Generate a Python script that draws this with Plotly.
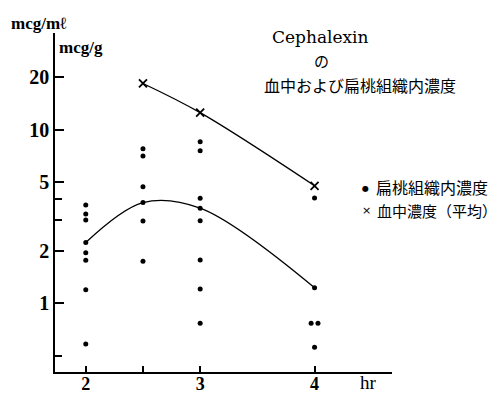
import plotly.graph_objects as go

# ---- data ----
tissue_time = [2] * 8 + [2.5] * 6 + [3] * 8 + [4, 4, 3.97, 4.03, 4]
tissue_conc = [3.68, 3.27, 3.02, 2.24, 1.96, 1.77, 1.20, 0.585,
               7.76, 7.04, 4.69, 3.80, 2.98, 1.75,
               8.51, 7.55, 4.02, 3.53, 2.99, 1.78, 1.21, 0.77,
               4.04, 1.23, 0.77, 0.77, 0.56]

tissue_mean_time = [2, 2.5, 3, 4]
tissue_mean_conc = [2.24, 3.80, 3.53, 1.23]

blood_time = [2.5, 3, 4]
blood_conc = [18.4, 12.5, 4.75]

x_tickvals = [2, 2.5, 3, 4]
x_ticktext = ["<b>2</b>", "", "<b>3</b>", "<b>4</b>"]
y_tickvals = [1, 2, 5, 10, 20]
y_ticktext = ["<b>1</b>", "<b>2</b>", "<b>5</b>", "<b>10</b>", "<b>20</b>"]
y_minor_vals = [0.5, 3, 4]

tissue_label = "扁桃組織内濃度"
blood_label = "血中濃度（平均）"

SERIF = "Liberation Serif"
CJK = "Noto Sans CJK JP"

# page offset (body margin of the html page) is compensated in the sizes
PAGE_OFF = 8
PLOT_L, PLOT_T, PLOT_W, PLOT_H = 55, 33, 337, 339

fig = go.Figure()

fig.add_trace(go.Scatter(
    x=blood_time, y=blood_conc, mode="lines",
    line=dict(color="black", width=1.3, shape="spline"),
    showlegend=False, hoverinfo="skip"))
fig.add_trace(go.Scatter(
    x=tissue_mean_time, y=tissue_mean_conc, mode="lines",
    line=dict(color="black", width=1.3, shape="spline"),
    showlegend=False, hoverinfo="skip"))

fig.add_trace(go.Scatter(
    x=tissue_time, y=tissue_conc, mode="markers", name=tissue_label,
    marker=dict(symbol="circle", size=5, color="black"), showlegend=False))
fig.add_trace(go.Scatter(
    x=blood_time, y=blood_conc, mode="markers", name=blood_label,
    marker=dict(symbol="x-thin", size=8, color="black",
                line=dict(color="black", width=1.8)), showlegend=False))

fig.update_layout(
    width=498 - PAGE_OFF, height=395 - PAGE_OFF,
    margin=dict(l=PLOT_L - PAGE_OFF, r=498 - PLOT_L - PLOT_W,
                t=PLOT_T - PAGE_OFF, b=395 - PLOT_T - PLOT_H,
                autoexpand=False),
    showlegend=False,
    paper_bgcolor="white", plot_bgcolor="white",
    font=dict(family=SERIF, color="black"),
    xaxis=dict(range=[1.731, 4.677], showgrid=False, zeroline=False,
               automargin=False,
               showline=True, linecolor="black", linewidth=1.5,
               tickmode="array", tickvals=x_tickvals, ticktext=x_ticktext,
               ticks="inside", ticklen=6, tickwidth=1.5, tickcolor="black",
               ticklabelstandoff=-5,
               tickfont=dict(family=SERIF, size=18, color="black")),
    yaxis=dict(type="log", range=[-0.394, 1.555], showgrid=False,
               zeroline=False, showline=True, linecolor="black",
               linewidth=1.5, automargin=False,
               tickmode="array", tickvals=y_tickvals, ticktext=y_ticktext,
               ticks="inside", ticklen=9, tickwidth=1.5, tickcolor="black",
               tickfont=dict(family=SERIF, size=20, color="black"),
               minor=dict(tickmode="array", tickvals=y_minor_vals,
                          ticks="inside", ticklen=7, tickwidth=1.5,
                          tickcolor="black", showgrid=False)),
)

annotations = [
    dict(text="<b>mcg/mℓ</b>", x=9, y=23, font=dict(family=SERIF, size=17)),
    dict(text="<b>mcg/g</b>", x=57, y=48, font=dict(family=SERIF, size=17)),
    dict(text="Cephalexin", x=270, y=37, font=dict(family="DejaVu Serif", size=17)),
    dict(text="の", x=312, y=60, font=dict(family=CJK, size=15)),
    dict(text="血中および扁桃組織内濃度", x=262, y=85, font=dict(family=CJK, size=16)),
    dict(text="hr", x=358, y=383, font=dict(family=SERIF, size=19)),
    # legend
    dict(text="●", x=360, y=188, font=dict(family="DejaVu Sans", size=8)),
    dict(text=tissue_label, x=374, y=187, font=dict(family=CJK, size=16)),
    dict(text="×", x=360, y=210, font=dict(family="DejaVu Sans", size=11)),
    dict(text=blood_label, x=375, y=210, font=dict(family=CJK, size=15)),
]
for a in annotations:
    fig.add_annotation(
        text=a["text"], xref="paper", yref="paper",
        x=(a["x"] - PLOT_L) / PLOT_W, y=1 - (a["y"] - PLOT_T) / PLOT_H,
        xanchor="left", yanchor="middle", showarrow=False,
        font=dict(color="black", **a["font"]))

fig.write_html("out.html")
